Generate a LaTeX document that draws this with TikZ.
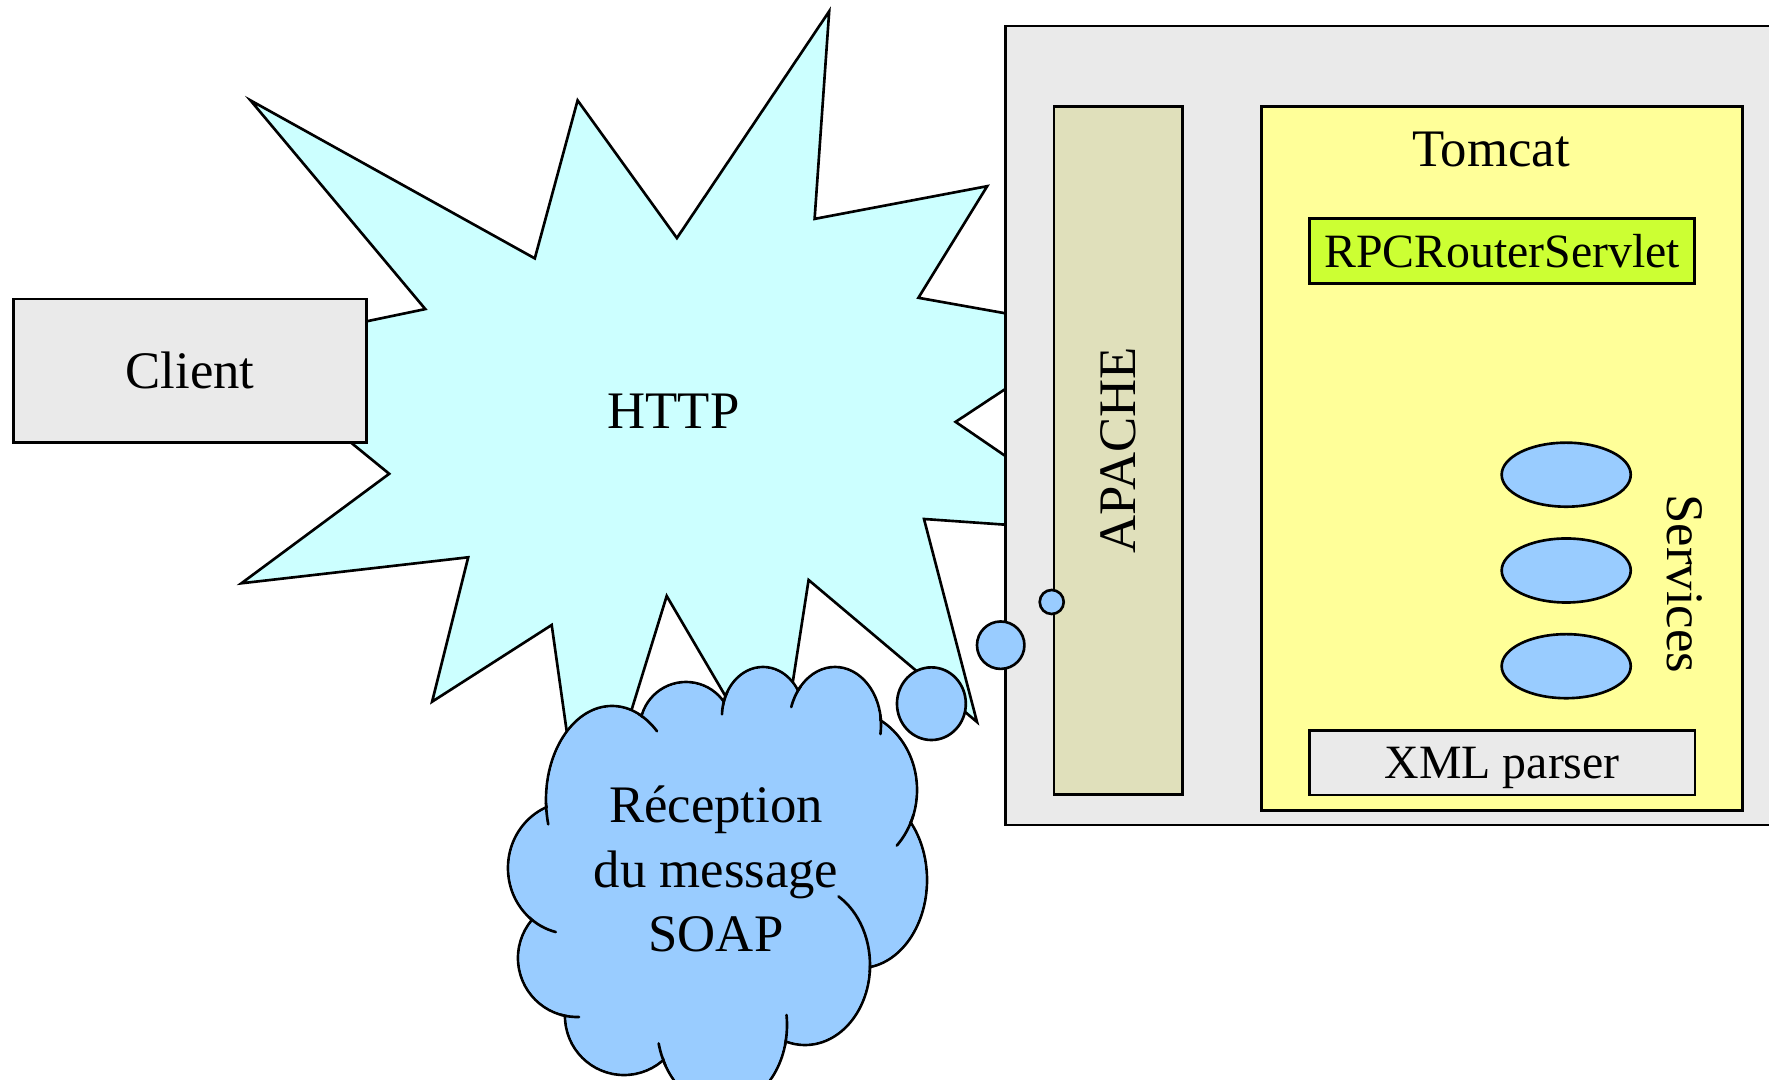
\documentclass[tikz,border=0pt]{standalone}
\usepackage{fontspec}
\setmainfont{Liberation Serif}
\usetikzlibrary{shapes.geometric}
\definecolor{boxgray}{HTML}{EAEAEA}
\definecolor{apachefill}{HTML}{E0E0BB}
\definecolor{tomcatfill}{HTML}{FFFF99}
\definecolor{servletfill}{HTML}{CCFF33}
\definecolor{httpfill}{HTML}{CCFFFF}
\definecolor{soapfill}{HTML}{99CCFF}
\tikzset{
	box/.style={draw, inner sep=0pt},
	innerbox/.style={box, font=\fontsize{13.6}{16}\selectfont, text depth=0pt},
	svc/.style={draw, ellipse, fill=soapfill, inner sep=0pt, minimum width=1.29cm, minimum height=0.64cm},
	bubble/.style={draw, ellipse, fill=soapfill, inner sep=0pt},
	cloudline/.style={draw, line cap=round}
}

\begin{document}
\begin{tikzpicture}[x=0.01cm, y=-0.01cm, line width=0.75pt, font=\fontsize{15}{18.35}\selectfont]

	\useasboundingbox (0,0) rectangle (1769,1080);
	\clip (0,0) rectangle (1769,1080);

	% Draw the HTTP star
	\filldraw[fill=httpfill] (250.5,100.4) -- (534.8,258.4) -- (577.6,100.4) -- (676.9,238.1)
		-- (829.2,11.3) -- (814.6,218.9) -- (987.2,186.2) -- (918.4,297.8)
		-- (1095.5,329.4) -- (955.6,421.9) -- (1117,532.5) -- (924,519)
		-- (977,722) -- (808.6,580) -- (777,784) -- (666.7,596)
		-- (585,861) -- (551.7,625) -- (432.1,701.7) -- (468.2,557.3)
		-- (241.4,583.3) -- (389.2,473.8) -- (235.8,348.6) -- (425.3,309.1) -- cycle;
	\node[anchor=base] (http) at (673.5,429) {HTTP};

	% Client
	\node[box, fill=boxgray, minimum width=3.534cm, minimum height=1.437cm] (client) at (190,370.9) {Client};

	% Server side
	\filldraw[fill=boxgray] (1005.5,26) rectangle (1800,825);
	\node[box, fill=apachefill, rotate=90, minimum width=6.876cm, minimum height=1.285cm] (apache) at (1118.2,450.5) {APACHE};
	\node[box, fill=tomcatfill, minimum width=4.808cm, minimum height=7.033cm] (tomcat) at (1501.9,458.35) {};
	\node[anchor=base] (tomcatlabel) at (1491,166.7) {Tomcat};
	\node[innerbox, fill=servletfill, minimum width=3.849cm, minimum height=0.65cm] (rpc) at (1502.2,250.8) {RPCRouterServlet};
	\node[innerbox, fill=boxgray, minimum width=3.857cm, minimum height=0.643cm] (xml) at (1502.2,762.9) {XML parser};

	% Services
	\foreach \i/\y in {1/474.7, 2/570.5, 3/666.2}
		\node[svc] (svc\i) at (1566.2,\y) {};
	\node[rotate=-90] (services) at (1685,583.7) {Services};

	% Thought bubbles
	\node[bubble, minimum width=0.688cm, minimum height=0.726cm] (bub1) at (931.4,703.7) {};
	\node[bubble, minimum size=0.474cm] (bub2) at (1000.7,645.2) {};
	\node[bubble, minimum size=0.24cm] (bub3) at (1051.7,602) {};

	% Cloud: outlined lobes, then the inside filled over
	\foreach \cx/\cy/\rx/\ry in {612/800/66/94, 686/728/46/46, 763/716/41/49, 835/725/46/58,
		845/790/72/80, 860/880/67/88, 805/965/65/80, 722/1025/65/82, 624/1016/59/59,
		577/958/59/59, 571/868/63/66}
		\filldraw[fill=soapfill] (\cx,\cy) ellipse[x radius=\rx, y radius=\ry];
	\fill[soapfill] (612,800) -- (686,728) -- (763,716) -- (835,725) -- (845,790) -- (860,880)
		-- (805,965) -- (722,1025) -- (624,1016) -- (577,958) -- (571,868) -- cycle;
	\foreach \cx/\cy/\rx/\ry [evaluate=\rx as \rxi using \rx-1.6, evaluate=\ry as \ryi using \ry-1.6]
		in {612/800/66/94, 686/728/46/46, 763/716/41/49, 835/725/46/58,
		845/790/72/80, 860/880/67/88, 805/965/65/80, 722/1025/65/82, 624/1016/59/59,
		577/958/59/59, 571/868/63/66}
		\fill[soapfill] (\cx,\cy) ellipse[x radius=\rxi, y radius=\ryi];
	% inner ticks of the lobes
	\foreach \cx/\cy/\rx/\ry/\a/\b in {612/800/66/94/178/165, 612/800/66/94/-66/-47,
		763/716/41/49/210/182, 835/725/46/58/222/198, 835/725/46/58/-10/9,
		845/790/72/80/18/44, 805/965/65/80/5/-59, 722/1025/65/82/14/-7,
		722/1025/65/82/150/167, 577/958/59/59/106/88, 571/868/63/66/132/104}
		\draw[cloudline] ([shift={({\a}:{\rx} and {\ry})}]\cx,\cy) arc[start angle=\a, end angle=\b, x radius=\rx, y radius=\ry];
	\node[align=center] (soap) at (716,869) {Réception\\du message\\SOAP};

\end{tikzpicture}
\end{document}
